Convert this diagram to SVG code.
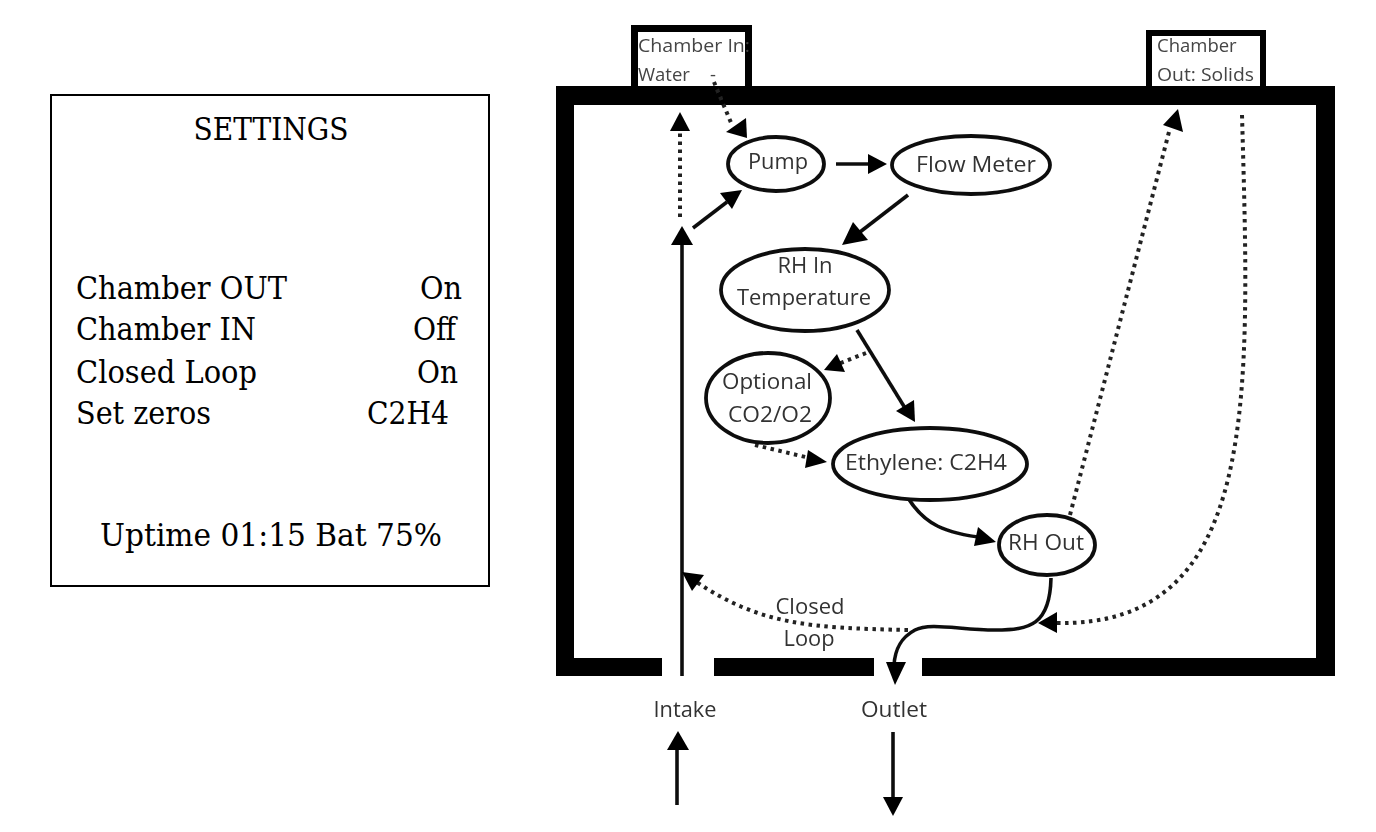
<svg xmlns="http://www.w3.org/2000/svg" width="1376" height="832" viewBox="0 0 1376 832">
<defs><filter id="soft" x="-2%" y="-2%" width="104%" height="104%"><feGaussianBlur stdDeviation="0.6"/></filter></defs>
<style>
.s{font-family:"DejaVu Serif","Liberation Serif",serif;font-size:31px;fill:#000}
.t{font-family:"Open Sans","DejaVu Sans",sans-serif;fill:#333;font-size:22px;text-anchor:middle}
.l{font-family:"Open Sans","DejaVu Sans",sans-serif;fill:#444;font-size:18.5px}
.e{fill:#fff;stroke:#111;stroke-width:3.8}
.c{fill:none;stroke:#111;stroke-width:3.6}
.d{fill:none;stroke:#222;stroke-width:4;stroke-dasharray:3.5 4.5}
.a{fill:#000}
</style>
<rect width="1376" height="832" fill="#fff"/>
<g id="settings">
<rect x="51" y="95" width="438" height="491" fill="#fff" stroke="#000" stroke-width="2"/>
<text class="s" x="271" y="140" text-anchor="middle" textLength="155" lengthAdjust="spacingAndGlyphs">SETTINGS</text>
<text class="s" x="76" y="299" textLength="211" lengthAdjust="spacingAndGlyphs">Chamber OUT</text>
<text class="s" x="420" y="299" textLength="42" lengthAdjust="spacingAndGlyphs">On</text>
<text class="s" x="76" y="340" textLength="180" lengthAdjust="spacingAndGlyphs">Chamber IN</text>
<text class="s" x="413" y="340" textLength="43" lengthAdjust="spacingAndGlyphs">Off</text>
<text class="s" x="76" y="383" textLength="181" lengthAdjust="spacingAndGlyphs">Closed Loop</text>
<text class="s" x="417" y="383" textLength="41" lengthAdjust="spacingAndGlyphs">On</text>
<text class="s" x="76" y="424" textLength="135" lengthAdjust="spacingAndGlyphs">Set zeros</text>
<text class="s" x="367" y="424" textLength="82" lengthAdjust="spacingAndGlyphs">C2H4</text>
<text class="s" x="100" y="546" textLength="342" lengthAdjust="spacingAndGlyphs">Uptime 01:15 Bat 75%</text>
</g>
<g filter="url(#soft)">
<g id="chamber">
<path class="a" d="M556 86H631V25H752V86H1146V30H1266V86H1335V676H922V658H1316V105H574V658H662V676H556Z"/>
<rect x="638" y="32" width="107" height="54" fill="#fff"/>
<rect x="1152" y="36" width="108" height="50" fill="#fff"/>
<rect x="714" y="658" width="160" height="18"/>
</g>
<g id="connectors">
<path class="c" d="M682 244V676"/>
<path class="a" d="M671 245L682 226L693 245Z"/>
<path class="d" d="M680 217V122"/>
<path class="a" d="M670 131L680 112L690 131Z"/>
<path class="d" d="M714 82L732 125"/>
<path class="a" d="M726 132L746 118L747 138Z"/>
<path class="c" d="M693 228L727 202"/>
<path class="a" d="M720 193L742 190L732 209Z"/>
<path class="c" d="M836 164H872"/>
<path class="a" d="M868 154L887 164L868 174Z"/>
<path class="c" d="M908 195L860 232"/>
<path class="a" d="M853 222L842 245L868 240Z"/>
<path class="c" d="M857 330L905 408"/>
<path class="a" d="M896 411L914 400L915 422Z"/>
<path class="d" d="M866 353L838 364"/>
<path class="a" d="M837 354L824 370L845 372Z"/>
<path class="d" d="M755 445L818 460"/>
<path class="a" d="M808 450L827 462L805 468Z"/>
<path class="c" d="M908 498C925 525 945 533 985 538"/>
<path class="a" d="M978 527L996 542L974 546Z"/>
<path class="d" d="M1070 515L1170 128"/>
<path class="a" d="M1163 125L1178 109L1183 132Z"/>
<path class="d" d="M1242 115C1250 400 1260 628 1055 623"/>
<path class="a" d="M1057 612L1038 623L1057 633Z"/>
<path class="c" d="M1051 578C1050 625 1030 630 995 630C960 630 930 622 915 630C900 638 895 650 894 665"/>
<path class="a" d="M886 662L906 662L895 685Z"/>
<path class="d" d="M908 630C810 628 760 625 695 581"/>
<path class="a" d="M682 572L704 575L692 591Z"/>
<path class="c" d="M677 805V745"/>
<path class="a" d="M667 750L678 731L689 750Z"/>
<path class="c" d="M893 732V800"/>
<path class="a" d="M883 797L893 816L903 797Z"/>
</g>
<g id="chamber-in"><text class="l" x="638" y="52" textLength="112" lengthAdjust="spacingAndGlyphs">Chamber In:</text><text class="l" x="638" y="81">Water</text><text class="l" x="710" y="81">-</text></g>
<g id="chamber-out"><text class="l" x="1157" y="52">Chamber</text><text class="l" x="1157" y="81" textLength="97" lengthAdjust="spacingAndGlyphs">Out: Solids</text></g>
<g id="pump"><ellipse class="e" cx="776" cy="164" rx="48" ry="27"/><text class="t" x="778" y="169" textLength="60" lengthAdjust="spacingAndGlyphs">Pump</text></g>
<g id="flow-meter"><ellipse class="e" cx="971" cy="165" rx="79" ry="29"/><text class="t" x="976" y="172" textLength="120" lengthAdjust="spacingAndGlyphs">Flow Meter</text></g>
<g id="rh-in"><ellipse class="e" cx="805" cy="290" rx="84" ry="41"/><text class="t" x="805" y="273">RH In</text><text class="t" x="804" y="305" textLength="134" lengthAdjust="spacingAndGlyphs">Temperature</text></g>
<g id="optional"><ellipse class="e" cx="768" cy="398" rx="62" ry="45"/><text class="t" x="767" y="389" textLength="90" lengthAdjust="spacingAndGlyphs">Optional</text><text class="t" x="770" y="422" textLength="84" lengthAdjust="spacingAndGlyphs">CO2/O2</text></g>
<g id="ethylene"><ellipse class="e" cx="930" cy="464" rx="97" ry="36"/><text class="t" x="926" y="470" textLength="162" lengthAdjust="spacingAndGlyphs">Ethylene: C2H4</text></g>
<g id="rh-out"><ellipse class="e" cx="1047" cy="545" rx="48" ry="30"/><text class="t" x="1046" y="550" textLength="76" lengthAdjust="spacingAndGlyphs">RH Out</text></g>
<g id="labels"><text class="t" x="810" y="614" textLength="69" lengthAdjust="spacingAndGlyphs">Closed</text><text class="t" x="809" y="646" textLength="51" lengthAdjust="spacingAndGlyphs">Loop</text><text class="t" x="685" y="717" textLength="63" lengthAdjust="spacingAndGlyphs">Intake</text><text class="t" x="894" y="717" textLength="66" lengthAdjust="spacingAndGlyphs">Outlet</text></g>
</g>
</svg>
